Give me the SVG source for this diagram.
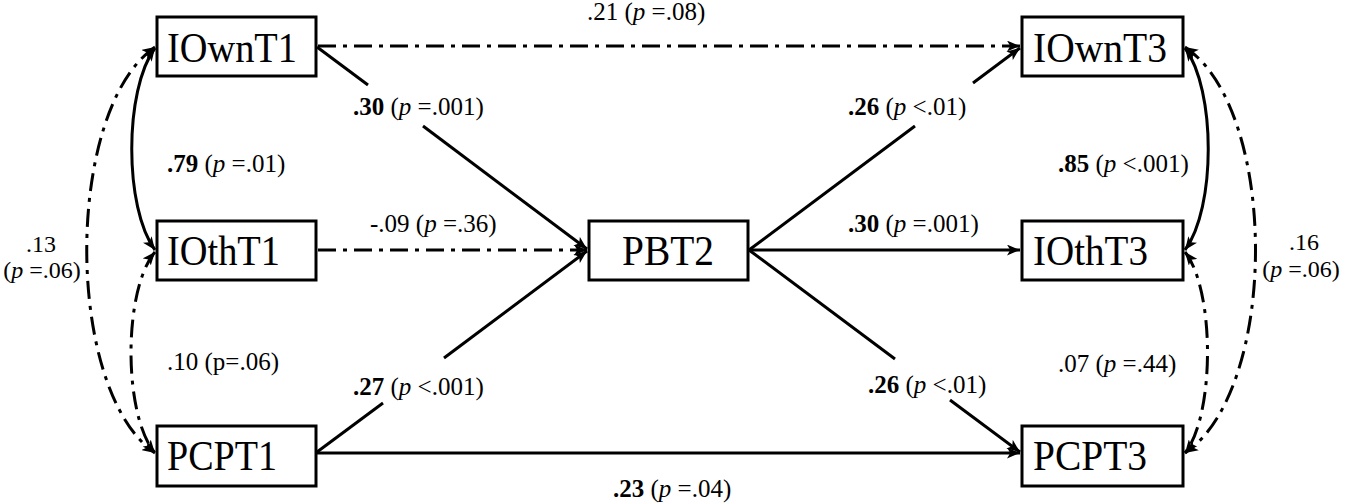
<svg xmlns="http://www.w3.org/2000/svg" width="1345" height="504" viewBox="0 0 1345 504">
<defs>
<marker id="ah" viewBox="0 0 12 10" refX="12" refY="5" markerWidth="13" markerHeight="11" markerUnits="userSpaceOnUse" orient="auto-start-reverse">
<path d="M0,0 L12,5 L0,10 L3,5 z" fill="#000"/>
</marker>
</defs>
<style>
.box{fill:#fff;stroke:#000;stroke-width:3}
.nt{font-family:"Liberation Serif","Times New Roman",serif;font-size:42px;fill:#000}
.lb{font-family:"Liberation Serif","Times New Roman",serif;font-size:25px;fill:#000}
.sm{font-size:24px}
.b{font-weight:bold}
.i{font-style:italic}
.s{fill:none;stroke:#000;stroke-width:3}
.d{fill:none;stroke:#000;stroke-width:3;stroke-dasharray:18 7 4 7}
</style>
<rect width="1345" height="504" fill="#fff"/>
<g id="connectors">
<line class="d" x1="318" y1="46" x2="1020" y2="46" marker-end="url(#ah)"/>
<line class="d" x1="318" y1="250" x2="587" y2="250" marker-end="url(#ah)"/>
<line class="s" x1="317" y1="47" x2="368" y2="85"/>
<line class="s" x1="423" y1="126" x2="587" y2="249" marker-end="url(#ah)"/>
<line class="s" x1="317" y1="452" x2="383" y2="403"/>
<line class="s" x1="444" y1="358" x2="587" y2="251" marker-end="url(#ah)"/>
<line class="s" x1="749" y1="250" x2="915" y2="126"/>
<line class="s" x1="973" y1="83" x2="1020" y2="48" marker-end="url(#ah)"/>
<line class="s" x1="749" y1="250" x2="1020" y2="250" marker-end="url(#ah)"/>
<line class="s" x1="749" y1="250" x2="895" y2="359"/>
<line class="s" x1="950" y1="400" x2="1020" y2="452" marker-end="url(#ah)"/>
<line class="s" x1="317" y1="453" x2="1020" y2="453" marker-end="url(#ah)"/>
<path class="s" d="M155,48 C124,90 124,208 155,250" marker-start="url(#ah)" marker-end="url(#ah)"/>
<path class="d" d="M155,47 C64,110 64,390 155,453" marker-start="url(#ah)" marker-end="url(#ah)"/>
<path class="d" d="M155,252 C123,290 123,415 155,453" marker-start="url(#ah)" marker-end="url(#ah)"/>
<path class="s" d="M1185,48 C1216,90 1216,208 1185,250" marker-start="url(#ah)" marker-end="url(#ah)"/>
<path class="d" d="M1185,47 C1279,110 1279,390 1185,453" marker-start="url(#ah)" marker-end="url(#ah)"/>
<path class="d" d="M1185,252 C1215,290 1215,415 1185,453" marker-start="url(#ah)" marker-end="url(#ah)"/>
</g>
<g id="IOwnT1"><rect class="box" x="157" y="17" width="159" height="59"/><text class="nt" x="167" y="62" textLength="130" lengthAdjust="spacingAndGlyphs">IOwnT1</text></g>
<g id="IOthT1"><rect class="box" x="157" y="221" width="159" height="59"/><text class="nt" x="167" y="265" textLength="113" lengthAdjust="spacingAndGlyphs">IOthT1</text></g>
<g id="PCPT1"><rect class="box" x="157" y="426" width="159" height="60"/><text class="nt" x="167" y="470" textLength="110" lengthAdjust="spacingAndGlyphs">PCPT1</text></g>
<g id="PBT2"><rect class="box" x="589" y="221" width="159" height="59"/><text class="nt" x="622" y="265" textLength="92" lengthAdjust="spacingAndGlyphs">PBT2</text></g>
<g id="IOwnT3"><rect class="box" x="1022" y="17" width="161" height="59"/><text class="nt" x="1033" y="62" textLength="134" lengthAdjust="spacingAndGlyphs">IOwnT3</text></g>
<g id="IOthT3"><rect class="box" x="1022" y="221" width="161" height="59"/><text class="nt" x="1033" y="265" textLength="115" lengthAdjust="spacingAndGlyphs">IOthT3</text></g>
<g id="PCPT3"><rect class="box" x="1022" y="426" width="161" height="60"/><text class="nt" x="1033" y="470" textLength="114" lengthAdjust="spacingAndGlyphs">PCPT3</text></g>
<g id="labels">
<text class="lb" x="587" y="20">.21 (<tspan class="i">p</tspan> =.08)</text>
<text class="lb" x="353" y="115"><tspan class="b">.30</tspan> (<tspan class="i">p</tspan> =.001)</text>
<text class="lb" x="167" y="172"><tspan class="b">.79</tspan> (<tspan class="i">p</tspan> =.01)</text>
<text class="lb" x="370" y="232">-.09 (<tspan class="i">p</tspan> =.36)</text>
<text class="lb sm" x="41" y="252" text-anchor="middle">.13</text>
<text class="lb sm" x="42" y="278" text-anchor="middle">(<tspan class="i">p</tspan> =.06)</text>
<text class="lb" x="167" y="370">.10 (p=.06)</text>
<text class="lb" x="353" y="395"><tspan class="b">.27</tspan> (<tspan class="i">p</tspan> &lt;.001)</text>
<text class="lb" x="848" y="115"><tspan class="b">.26</tspan> (<tspan class="i">p</tspan> &lt;.01)</text>
<text class="lb" x="848" y="232"><tspan class="b">.30</tspan> (<tspan class="i">p</tspan> =.001)</text>
<text class="lb" x="1058" y="172"><tspan class="b">.85</tspan> (<tspan class="i">p</tspan> &lt;.001)</text>
<text class="lb sm" x="1304" y="250" text-anchor="middle">.16</text>
<text class="lb sm" x="1301" y="277" text-anchor="middle">(<tspan class="i">p</tspan> =.06)</text>
<text class="lb" x="1058" y="372">.07 (<tspan class="i">p</tspan> =.44)</text>
<text class="lb" x="868" y="393"><tspan class="b">.26</tspan> (<tspan class="i">p</tspan> &lt;.01)</text>
<text class="lb" x="613" y="497"><tspan class="b">.23</tspan> (<tspan class="i">p</tspan> =.04)</text>
</g>
</svg>
